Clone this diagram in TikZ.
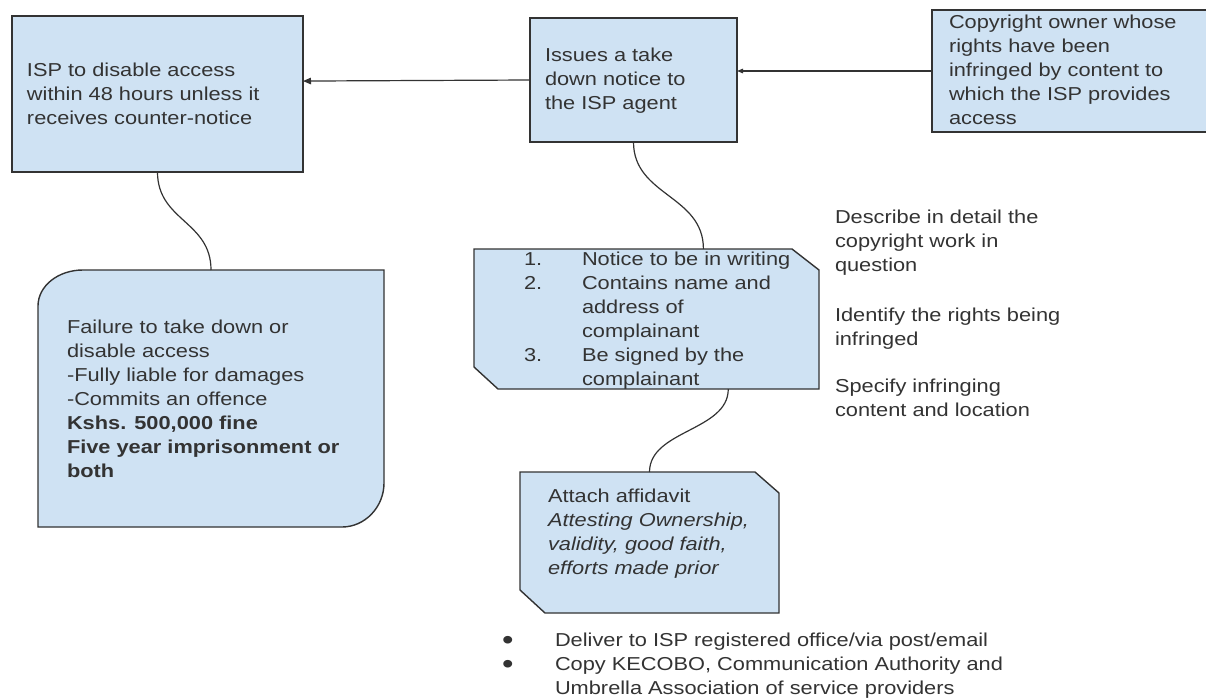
\documentclass[tikz,border=0pt]{standalone}
\usepackage{fontspec}
\setmainfont{Liberation Sans}[FakeStretch=1.165]
\usetikzlibrary{calc,arrows.meta,backgrounds}
\definecolor{boxfill}{HTML}{CFE2F3}
\definecolor{ink}{HTML}{333333}
\newcommand{\mylines}[1]{\begin{tabular}[t]{@{}l@{}}#1\end{tabular}}
\newcommand{\mybul}{\makebox[53pt][l]{\raisebox{-3pt}{\scalebox{1.5}{•}}}}
\begin{document}
\begin{tikzpicture}[x=1pt,y=-1pt,
  box/.style={draw=ink, line width=1.4pt, fill=boxfill, inner sep=0pt, outer sep=0pt},
  boxline/.style={draw=ink, line width=1.4pt, fill=boxfill},
  shapebox/.style={inner sep=0pt, outer sep=0pt},
  txt/.style={inner sep=0pt, outer sep=0pt, anchor=base west, text=ink, font=\fontsize{18.7}{24}\selectfont},
  conn/.style={draw=ink, line width=1.2pt},
  arrbig/.style={conn, -{Triangle[length=8pt,width=6.5pt]}},
  arrsmall/.style={conn, -{Triangle[length=6pt,width=4.5pt]}},
]
\useasboundingbox (0,0) rectangle (1206,698);

% boxes
\node[box, minimum width=291pt, minimum height=156pt] (A) at (157.5,94) {};
\node[box, minimum width=207pt, minimum height=124pt] (B) at (633.5,80) {};
\node[box, minimum width=276pt, minimum height=122pt] (C) at (1070,71) {};
\node[shapebox, minimum width=346pt, minimum height=257pt] (D) at (211,398.5) {};
\node[shapebox, minimum width=345pt, minimum height=140pt] (E) at (646.5,319) {};
\node[shapebox, minimum width=259pt, minimum height=141pt] (F) at (649.5,542.5) {};

\begin{scope}[on background layer]
  \fill[white] (0,0) rectangle (1206,698);
  \draw[boxline] ([yshift=-36pt]D.north west)
      .. controls ([yshift=-16pt]D.north west) and ([xshift=20pt]D.north west) .. ([xshift=45pt]D.north west)
      -- (D.north east) -- ([yshift=44pt]D.south east)
      .. controls ([yshift=20pt]D.south east) and ([xshift=-19pt]D.south east) .. ([xshift=-42pt]D.south east)
      -- (D.south west) -- cycle;
  \draw[boxline] (E.north west) -- ([xshift=-27pt]E.north east) -- ([yshift=-21pt]E.north east)
      -- (E.south east) -- ([xshift=24pt]E.south west) -- ([yshift=22pt]E.south west) -- cycle;
  \draw[boxline] (F.north west) -- ([xshift=-24pt]F.north east) -- ([yshift=-21pt]F.north east)
      -- (F.south east) -- ([xshift=25pt]F.south west) -- ([yshift=23pt]F.south west) -- cycle;
\end{scope}

% texts
\node[txt] (At) at (27,77) {\mylines{ISP to disable access\\within 48 hours unless it\\receives counter-notice}};
\node[txt] (Bt) at (545,62) {\mylines{Issues a take\\down notice to\\the ISP agent}};
\node[txt] (Ct) at (949,29) {\mylines{Copyright owner whose\\rights have been\\infringed by content to\\which the ISP provides\\access}};
\node[txt] (Dt) at (67,333) {\mylines{Failure to take down or\\disable access\\-Fully liable for damages\\-Commits an offence\\\textbf{Kshs. 500,000 fine}\\\textbf{Five year imprisonment or}\\\textbf{both}}};
\node[txt] (Et) at (524,265) {\begin{tabular}[t]{@{}l@{}l@{}}\makebox[58pt][l]{1.}&Notice to be in writing\\\makebox[58pt][l]{2.}&Contains name and\\&address of\\&complainant\\\makebox[58pt][l]{3.}&Be signed by the\\&complainant\end{tabular}};
\node[txt] (Ft) at (548,502) {\mylines{Attach affidavit\\\textit{Attesting Ownership,}\\\textit{validity, good faith,}\\\textit{efforts made prior}}};
\node[txt] (Q1) at (835,223) {\mylines{Describe in detail the\\copyright work in\\question}};
\node[txt] (Q2) at (835,321) {\mylines{Identify the rights being\\infringed}};
\node[txt] (Q3) at (835,392) {\mylines{Specify infringing\\content and location}};
\node[txt] (G) at (502,646) {\mylines{\mybul Deliver to ISP registered office/via post/email\\\mybul Copy KECOBO, Communication Authority and\\\makebox[53pt][l]{}Umbrella Association of service providers}};

% connectors
\draw[arrsmall] (C.west) -- (C.west -| B.east);
\draw[arrbig] (B.west) -- ($(A.north east)!0.417!(A.south east)$);
\draw[conn] (A.south) .. controls ($(A.south)+(0,49)$) and ($(D.north)+(0,-49)$) .. (D.north);
\coordinate (Etop) at ($(E.north west)!0.665!(E.north east)$);
\draw[conn] (B.south) .. controls ($(B.south)+(0,54)$) and ($(Etop)+(0,-54)$) .. (Etop);
\coordinate (Ebot) at ($(E.south west)!0.737!(E.south east)$);
\draw[conn] (Ebot) .. controls ($(Ebot)+(0,42)$) and ($(F.north)+(0,-42)$) .. (F.north);
\end{tikzpicture}
\end{document}
